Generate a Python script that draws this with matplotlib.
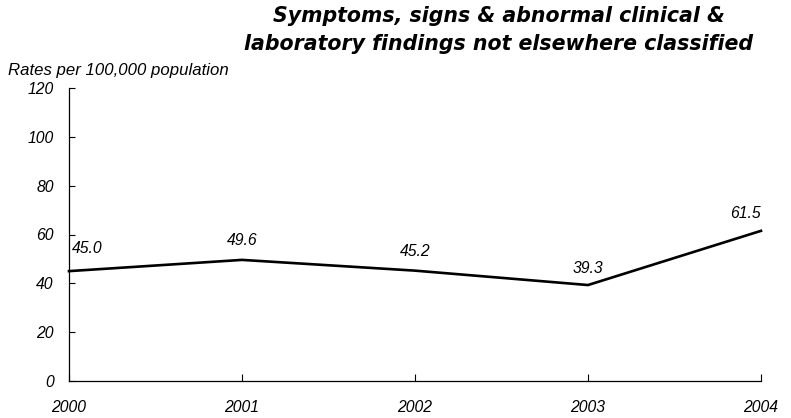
import matplotlib
matplotlib.use("Agg")
import matplotlib.pyplot as plt

years = [2000, 2001, 2002, 2003, 2004]
rates = [45.0, 49.6, 45.2, 39.3, 61.5]
yticks = [0, 20, 40, 60, 80, 100, 120]
title = "Symptoms, signs & abnormal clinical &\nlaboratory findings not elsewhere classified"
ylabel = "Rates per 100,000 population"

plt.rcParams['font.family'] = ['Liberation Sans', 'DejaVu Sans']

fig = plt.figure(figsize=(7.91, 4.18), dpi=100)
ax = fig.add_axes([69/791, 37/418, 692/791, 293/418])
ax.plot(years, rates, color='black', lw=1.9, solid_joinstyle='miter', clip_on=False)
ax.set_xlim(2000, 2004)
ax.set_ylim(0, 120)
ax.set_yticks(yticks)
ax.set_xticks(years)
ax.set_yticklabels([str(v) for v in yticks], fontsize=11.3, style='italic')
ax.set_xticklabels([str(v) for v in years], fontsize=11.3, style='italic')
ax.tick_params(axis='y', direction='in', length=4, pad=11, width=0.8)
ax.tick_params(axis='x', direction='in', length=5, pad=14, width=0.8)
for s in ['top', 'right']:
    ax.spines[s].set_visible(False)
for s in ['left', 'bottom']:
    ax.spines[s].set_linewidth(0.9)

offsets = [16, 13.7, 13.7, 12.2, 12.2]
for i, (x, y) in enumerate(zip(years, rates)):
    ha = 'center'
    dx = 0
    if i == 0:
        ha = 'left'; dx = 2
    elif i == len(years) - 1:
        ha = 'right'; dx = 0
    ax.annotate(f"{y:.1f}", (x, y), xytext=(dx, offsets[i]), textcoords='offset points',
                ha=ha, va='center', fontsize=11.3, style='italic', annotation_clip=False)

fig.text(499/791, 1 - 30.5/418, title, ha='center', va='center', fontsize=14.8,
         fontweight='bold', style='italic', linespacing=1.5,
         family=['DejaVu Sans'])
fig.text(8/791, 1 - 70/418, ylabel, ha='left', va='center', fontsize=12.1, style='italic')

fig.savefig("out.png", dpi=100)
